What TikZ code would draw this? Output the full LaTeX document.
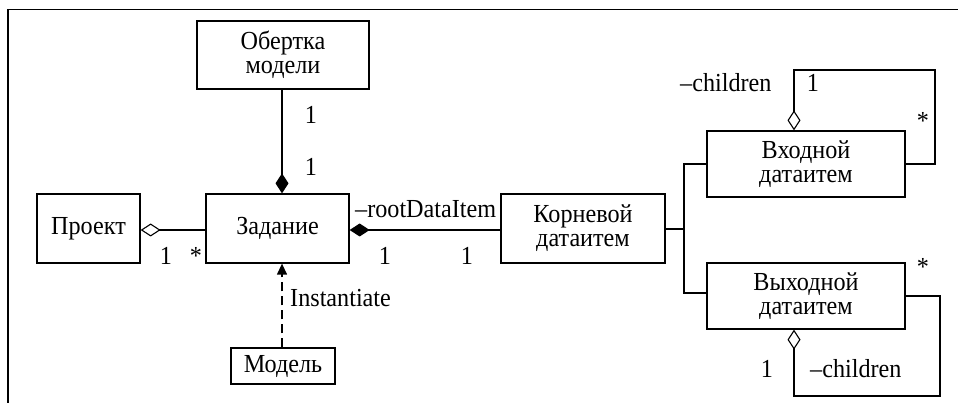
\documentclass[tikz,border=0pt]{standalone}
\usepackage{fontspec}
\setmainfont[FakeStretch=0.93]{Liberation Serif}
\usetikzlibrary{arrows.meta,calc}
\begin{document}
\begin{tikzpicture}[x=1pt,y=-1pt,
  every node/.style={font=\fontsize{26}{24}\selectfont},
  box/.style={draw,line width=1.3pt,align=center,inner sep=0pt},
  lab/.style={inner sep=0pt,anchor=base},
  conn/.style={line width=1.3pt},
  comp/.style={conn,-{Diamond[length=20pt,width=13pt]}},
  aggr/.style={conn,-{Diamond[open,length=20pt,width=13pt,line width=1.1pt]}},
  dep/.style={conn,dash pattern=on 9pt off 5pt,-{Triangle[length=11pt,width=10pt]}}]
\useasboundingbox (0,0) rectangle (958,403);
\draw[line width=1.3pt] (8,403) -- (8,9.5) -- (958,9.5);
% boxes
\node[box,minimum width=172pt,minimum height=68pt] (obr) at (283,55) {Обертка\\модели};
\node[box,minimum width=143pt,minimum height=69pt] (zad) at (277.5,228.5) {Задание};
\node[box,minimum width=103pt,minimum height=69pt] (proj) at (88.5,228.5) {Проект};
\node[box,minimum width=164pt,minimum height=69pt] (kor) at (583,228.5) {Корневой\\датаитем};
\node[box,minimum width=104pt,minimum height=36pt] (mod) at (283,366) {Модель};
\node[box,minimum width=198pt,minimum height=66pt] (vkh) at (806,164) {Входной\\датаитем};
\node[box,minimum width=198pt,minimum height=66pt] (vykh) at (806,296) {Выходной\\датаитем};
% connectors
\draw[comp] (obr.south -| 282,0) -- (zad.north -| 282,0);
\draw[aggr] (zad.west |- 0,230) -- (proj.east |- 0,230);
\draw[comp] (kor.west |- 0,230) -- (zad.east |- 0,230);
\draw[dep] (mod.north -| 282,0) -- (zad.south -| 282,0);
\coordinate (fork) at (684,229);
\draw[conn] (kor.east |- fork) -- (fork);
\draw[conn] (vkh.west) -| (fork) |- ($(vykh.west)+(0,-3)$);
\coordinate (loopA) at (935,70);
\draw[aggr] (vkh.east) -| (loopA) -| ($(vkh.north)+(-12,0)$);
\coordinate (loopB) at (940,396);
\draw[aggr] (vykh.east) -| (loopB) -| ($(vykh.south)+(-12,0)$);
% labels
\node[lab] (m1) at (311,124) {1};
\node[lab] (m2) at (311,176) {1};
\node[lab] (m3) at (166,265) {1};
\node[lab] (m4) at (196,265) {*};
\node[lab,anchor=base west] (r) at (355,218) {–rootDataItem};
\node[lab] (m5) at (385,265) {1};
\node[lab] (m6) at (467,265) {1};
\node[lab,anchor=base west] (inst) at (290,306) {Instantiate};
\node[lab,anchor=base west] (ch1) at (680,92) {–children};
\node[lab] (m7) at (813,92) {1};
\node[lab] (m8) at (923,130) {*};
\node[lab] (m9) at (923,276) {*};
\node[lab] (m10) at (767,377) {1};
\node[lab,anchor=base west] (ch2) at (810,377) {–children};
\end{tikzpicture}
\end{document}
